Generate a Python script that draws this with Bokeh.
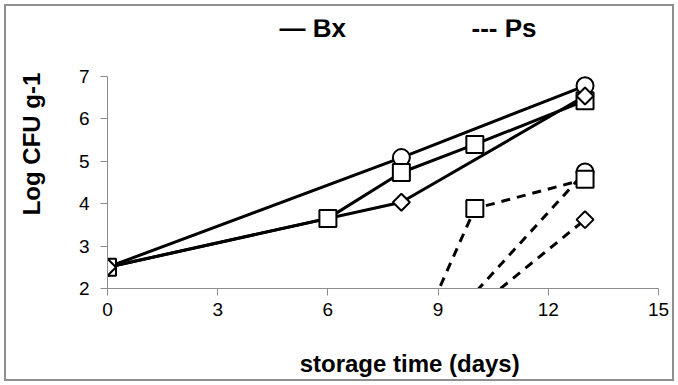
import math
from bokeh.plotting import figure
from bokeh.models import Range1d, FixedTicker, Label
from bokeh.embed import file_html
from bokeh.resources import INLINE

# ---- data ----
bx_circle_days = [0, 8, 13]
bx_circle_vals = [2.5, 5.08, 6.77]
bx_square_days = [0, 6, 8, 10, 13]
bx_square_vals = [2.5, 3.65, 4.73, 5.39, 6.42]
bx_diamond_days = [0, 8, 13]
bx_diamond_vals = [2.5, 4.03, 6.53]

ps_circle_days = [8, 13]
ps_circle_vals = [0.0, 4.74]
ps_square_days = [8, 10, 13]
ps_square_vals = [0.0, 3.88, 4.57]
ps_diamond_days = [8, 13]
ps_diamond_vals = [0.1, 3.62]

x_ticks = [0, 3, 6, 9, 12, 15]
y_ticks = [2, 3, 4, 5, 6, 7]

legend_texts = ["\u2014 Bx", "--- Ps"]
x_title = "storage time (days)"
y_title = "Log CFU g-1"

FONT = "Liberation Sans"
AXIS_GRAY = "#8c8c8c"
NB = "\u00a0"

# the frame reaches up into the legend row; the y axis itself stops at 7
p = figure(width=670, height=377, output_backend="svg", toolbar_location=None,
           x_range=Range1d(0, 15), y_range=Range1d(2, 8.33),
           min_border_left=101, min_border_right=18, min_border_top=13, min_border_bottom=95)
p.outline_line_color = None
p.xgrid.grid_line_color = None
p.ygrid.grid_line_color = None
p.styles = {"border": "2px solid #8f8f8f", "margin-left": "4px", "margin-top": "4px"}

for ax in (p.xaxis[0], p.yaxis[0]):
    ax.axis_line_color = AXIS_GRAY
    ax.major_tick_line_color = AXIS_GRAY
    ax.minor_tick_line_color = None
    ax.major_tick_in = 0
    ax.major_tick_out = 7
    ax.major_label_text_font = FONT
    ax.major_label_text_font_size = "19px"
    ax.major_label_text_color = "black"
    ax.axis_label_text_font = FONT
    ax.axis_label_text_font_style = "bold"
    ax.axis_label_text_font_size = "24px"
    ax.axis_label_text_color = "black"

p.xaxis[0].ticker = FixedTicker(ticks=x_ticks)
p.yaxis[0].ticker = FixedTicker(ticks=y_ticks)
p.yaxis[0].bounds = (y_ticks[0], y_ticks[-1])
# leading non-breaking spaces shift the titles slightly off-centre, as in the reference
p.xaxis[0].axis_label = NB * 8 + x_title
p.yaxis[0].axis_label = NB * 3 + y_title
p.yaxis[0].axis_label_text_align = "center"
p.xaxis[0].major_label_standoff = 7
p.yaxis[0].major_label_standoff = 11
p.xaxis[0].axis_label_standoff = 31
p.yaxis[0].axis_label_standoff = 31

LW = 3

# Ps (dashed)
for d, v in ((ps_circle_days, ps_circle_vals), (ps_square_days, ps_square_vals),
             (ps_diamond_days, ps_diamond_vals)):
    p.line(d, v, line_color="black", line_width=LW, line_dash="9 7")

# Bx (solid)
for d, v in ((bx_circle_days, bx_circle_vals), (bx_square_days, bx_square_vals),
             (bx_diamond_days, bx_diamond_vals)):
    p.line(d, v, line_color="black", line_width=LW)

mk = dict(fill_color="white", line_color="black", line_width=2)
p.scatter(bx_circle_days, bx_circle_vals, marker="circle", size=17, **mk)
p.scatter(ps_circle_days, ps_circle_vals, marker="circle", size=17, **mk)
p.scatter(bx_square_days, bx_square_vals, marker="square", size=17, **mk)
p.scatter(ps_square_days, ps_square_vals, marker="square", size=17, **mk)
p.scatter(bx_diamond_days, bx_diamond_vals, marker="square", size=12, angle=math.pi / 4, **mk)
p.scatter(ps_diamond_days, ps_diamond_vals, marker="square", size=12, angle=math.pi / 4, **mk)

# legend texts in the top row (screen units from the frame's lower-left corner)
for txt, xs in zip(legend_texts, (172, 364)):
    p.add_layout(Label(x=xs, y=261, x_units="screen", y_units="screen", text=txt,
                       text_font=FONT, text_font_style="bold", text_font_size="26px",
                       text_color="black", text_baseline="middle"))

open("out.html", "w").write(file_html(p, INLINE))
